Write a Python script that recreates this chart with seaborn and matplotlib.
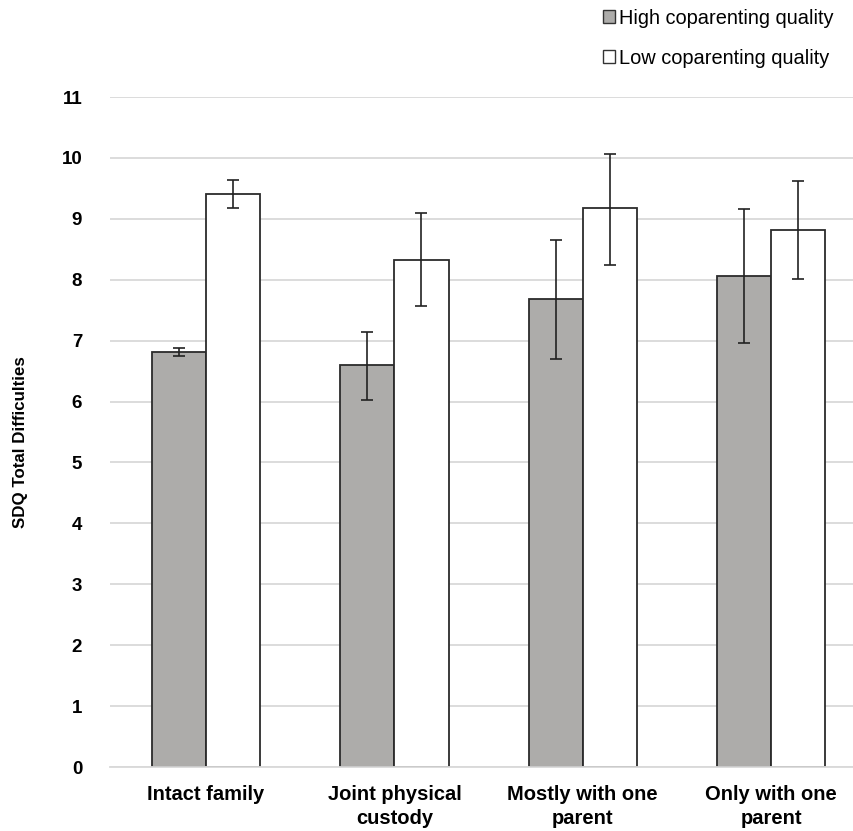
import numpy as np
import pandas as pd
import matplotlib.pyplot as plt
import seaborn as sns
from matplotlib.patches import Patch

categories = ["Intact family", "Joint physical\ncustody", "Mostly with one\nparent", "Only with one\nparent"]
groups = ["High coparenting quality", "Low coparenting quality"]
high_mean = [6.81, 6.60, 7.68, 8.06]
high_lo = [6.75, 6.03, 6.70, 6.96]
high_hi = [6.88, 7.14, 8.65, 9.16]
low_mean = [9.41, 8.33, 9.18, 8.82]
low_lo = [9.18, 7.57, 8.24, 8.01]
low_hi = [9.64, 9.10, 10.07, 9.62]

df = pd.DataFrame({
    "category": categories * 2,
    "group": [groups[0]] * 4 + [groups[1]] * 4,
    "value": high_mean + low_mean,
    "lo": high_lo + low_lo,
    "hi": high_hi + low_hi,
})

sns.set_style("white")
plt.rcParams["font.family"] = ["Liberation Sans", "DejaVu Sans"]
plt.rcParams["text.color"] = "black"
plt.rcParams["xtick.color"] = "black"
plt.rcParams["ytick.color"] = "black"
plt.rcParams["axes.labelcolor"] = "black"

fig = plt.figure(figsize=(8.54, 8.31), dpi=100)
ax = fig.add_axes([110 / 854, 64 / 831, 744 / 854, 670 / 831])

palette = {groups[0]: "#adacaa", groups[1]: "#ffffff"}
sns.barplot(data=df, x="category", y="value", hue="group", order=categories,
            hue_order=groups, palette=palette, width=0.575, errorbar=None,
            edgecolor="#2b2b2b", linewidth=1.3, saturation=1, ax=ax, zorder=2)

# error bars at bar centres, in the order seaborn draws them (hue by hue)
bars = [p for p in ax.patches if p.get_height() > 0][:8]
for bar, (_, row) in zip(bars, df.iterrows()):
    xc = bar.get_x() + bar.get_width() / 2
    ax.errorbar(xc, row["value"], yerr=[[row["value"] - row["lo"]], [row["hi"] - row["value"]]],
                fmt="none", ecolor="#222222", elinewidth=1.2, capsize=4, capthick=1.2, zorder=3)

ax.set_ylim(0, 11)
ax.set_xlim(-0.51, 3.44)
ax.set_yticks(range(0, 12))
ax.yaxis.grid(True, color="#d9d9d9", linewidth=1.3, zorder=0)
ax.set_axisbelow(True)
for s in ["top", "right", "left"]:
    ax.spines[s].set_visible(False)
ax.spines["bottom"].set_color("#d9d9d9")
ax.spines["bottom"].set_linewidth(1.3)
ax.tick_params(axis="both", length=0)
ax.tick_params(axis="y", pad=20, labelsize=13.5)
ax.tick_params(axis="x", pad=13, labelsize=14.5)
for lab in ax.get_xticklabels() + ax.get_yticklabels():
    lab.set_fontweight("bold")
    lab.set_linespacing(1.3)
ax.set_xlabel("")
ax.set_ylabel("SDQ Total Difficulties", fontsize=12.2, fontweight="bold")
ax.yaxis.set_label_coords(-0.110, 0.485)

ax.get_legend().remove()
handles = [Patch(facecolor=palette[g], edgecolor="#333333", linewidth=1.0) for g in groups]
fig.legend(handles, groups, loc="upper left", bbox_to_anchor=(585 / 854, 1.011),
           frameon=False, fontsize=14.4, handlelength=0.6, handleheight=0.6,
           handletextpad=0.2, labelspacing=1.05)

fig.savefig("out.png", dpi=100)
